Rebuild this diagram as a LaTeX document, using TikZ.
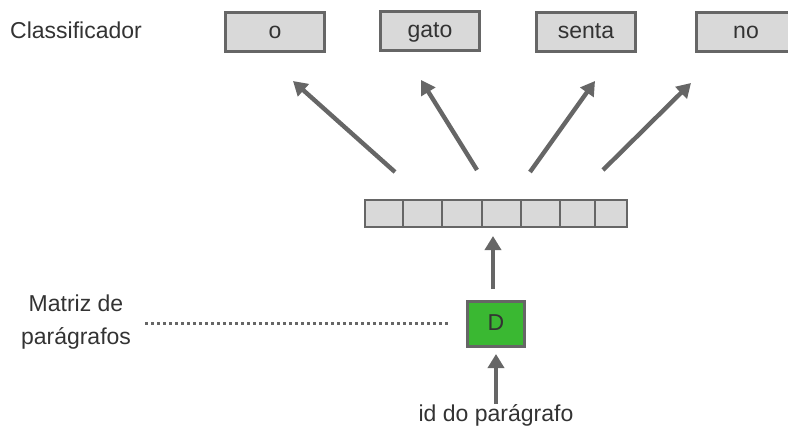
\documentclass[tikz,border=0pt]{standalone}
\usepackage{fontspec}
\setmainfont{Liberation Sans}
\usetikzlibrary{arrows.meta}
\definecolor{boxfill}{RGB}{217,217,217}
\definecolor{edgegray}{RGB}{102,102,102}
\definecolor{inkgray}{RGB}{51,51,51}
\definecolor{dgreen}{RGB}{58,184,50}
\begin{document}
\begin{tikzpicture}[x=1pt,y=-1pt,
  every node/.style={text=inkgray,font=\fontsize{23}{30}\selectfont},
  wordbox/.style={draw=edgegray,line width=2.2pt,fill=boxfill,minimum width=99pt,minimum height=39pt,inner sep=0pt,text height=17pt,text depth=3.5pt},
  cellbox/.style={draw=edgegray,line width=1.4pt,fill=boxfill},
  flow/.style={draw=edgegray,line width=4.4pt,-{Triangle[width=16pt,length=14pt]}},
  label/.style={inner sep=0pt,align=center}]
  \useasboundingbox (0,0) rectangle (788,432);
  \clip (0,0) rectangle (788,432);

  % classifier outputs
  \node[label] (cls) at (76,30) {Classificador};
  \node[wordbox] (w1) at (275,32) {o};
  \node[wordbox] (w2) at (430,31) {gato};
  \node[wordbox] (w3) at (586,32) {senta};
  \node[wordbox] (w4) at (746,32) {no};

  % paragraph vector
  \foreach \a/\b [count=\i] in {365/403,403/442,442/482,482/521,521/560,560/595,595/627}
    \draw[cellbox] (\a,200) rectangle (\b,227);

  % arrows from the vector to the classifier outputs
  \coordinate (t1) at (395,172);
  \coordinate (t2) at (477,170);
  \coordinate (t3) at (530,172);
  \coordinate (t4) at (603,170);
  \coordinate (h1) at (293,81);
  \coordinate (h2) at (421,80);
  \coordinate (h3) at (595,81);
  \coordinate (h4) at (691,83);
  \draw[flow] (t1) -- (h1);
  \draw[flow] (t2) -- (h2);
  \draw[flow] (t3) -- (h3);
  \draw[flow] (t4) -- (h4);

  % paragraph matrix lookup
  \node[draw=edgegray,line width=2.2pt,fill=dgreen,minimum width=57pt,minimum height=45pt,inner sep=0pt,text height=17pt,text depth=3.5pt] (d) at (496,324) {D};
  \coordinate (dup) at (493,289);
  \coordinate (vin) at (493,236);
  \draw[flow] (dup) -- (vin);

  \node[label,font=\fontsize{23}{33}\selectfont] (mat) at (76,322) {Matriz de\\parágrafos};
  \coordinate (dotl) at (145,323);
  \coordinate (dotr) at (448,323);
  \draw[edgegray,line width=3pt,dash pattern=on 3pt off 3pt] (dotl) -- (dotr);

  \node[label] (pid) at (496,415) {id do parágrafo};
  \coordinate (pidtop) at (496,404);
  \coordinate (din) at (496,354);
  \draw[flow] (pidtop) -- (din);
\end{tikzpicture}
\end{document}
